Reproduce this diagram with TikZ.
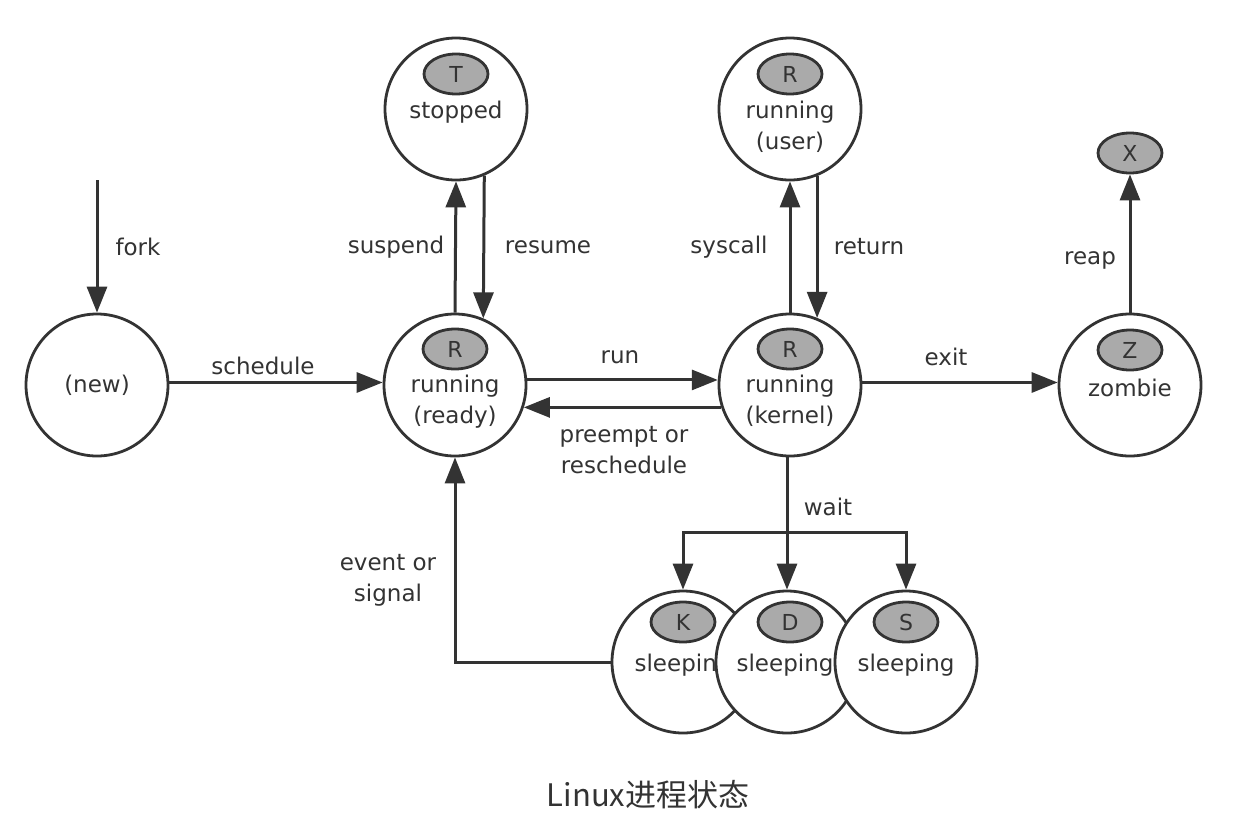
\documentclass[tikz,border=0pt]{standalone}
\usepackage{fontspec}
\setmainfont{DejaVu Sans}
\newfontfamily\cjk{Noto Sans CJK SC}
\usetikzlibrary{arrows.meta,shapes.geometric}
\definecolor{lc}{HTML}{333333}
\definecolor{tg}{HTML}{AAAAAA}
\tikzset{
  state/.style={circle, draw=lc, line width=2.8pt, fill=white, minimum size=142pt, inner sep=0pt},
  tag/.style={ellipse, draw=lc, line width=2.8pt, fill=tg, minimum width=64pt, minimum height=40pt, inner sep=0pt, text=lc, font=\fontsize{22}{26}\selectfont},
  txt/.style={text=lc, align=center, inner sep=0pt, font=\fontsize{23}{31}\selectfont},
  lbl/.style={text=lc, align=center, inner sep=0pt, font=\fontsize{23}{31}\selectfont},
  arr/.style={draw=lc, line width=3pt, -{Triangle[length=26pt,width=20pt]}},
}
\begin{document}
\begin{tikzpicture}[x=1pt,y=-1pt]
\useasboundingbox[fill=white] (0,0) rectangle (1244,836);

% states
\node[state] (new) at (97,385) {};
\node[txt] (newt) at (new.center) {(new)};

\node[state] (ready) at (455,385) {};
\node[tag] (readyg) at (455,349) {R};
\node[txt,anchor=north] (readyt) at (455,375) {running\\(ready)};

\node[state] (stopped) at (456,109) {};
\node[tag] (stoppedg) at (456,74) {T};
\node[txt] (stoppedt) at (456,112) {stopped};

\node[state] (kernel) at (790,385) {};
\node[tag] (kernelg) at (790,349) {R};
\node[txt,anchor=north] (kernelt) at (790,375) {running\\(kernel)};

\node[state] (user) at (790,109) {};
\node[tag] (userg) at (790,74) {R};
\node[txt,anchor=north] (usert) at (790,101) {running\\(user)};

\node[state] (zombie) at (1130,385) {};
\node[tag] (zombieg) at (1130,350) {Z};
\node[txt] (zombiet) at (1130,388) {zombie};

\node[tag] (dead) at (1130,153) {X};

\node[state] (sk) at (683,662) {};
\node[tag] (skg) at (683,622) {K};
\node[txt] (skt) at (683,665) {sleeping};
\node[state] (sd) at (787,662) {};
\node[tag] (sdg) at (790,622) {D};
\node[txt] (sdt) at (785,665) {sleeping};
\node[state] (ss) at (906,662) {};
\node[tag] (ssg) at (906,622) {S};
\node[txt] (sst) at (906,665) {sleeping};

% connectors
\coordinate (forkstart) at (97,180);
\draw[arr] (forkstart) -- (new.north);
\node[lbl] (lfork) at (138,247) {fork};

\draw[arr] (new.2) -- (ready.178);
\node[lbl] (lsched) at (263,366) {schedule};

\draw[arr] (ready.north) -- (stopped.south);
\node[lbl] (lsusp) at (396,247) {suspend};
\draw[arr] (stopped.-67) -- (ready.67);
\node[lbl] (lres) at (548,247) {resume};

\draw[arr] (kernel.north) -- (user.south);
\node[lbl] (lsys) at (729,247) {syscall};
\draw[arr] (user.-68) -- (kernel.68);
\node[lbl] (lret) at (869,247) {return};

\draw[arr] (ready.4) -- (kernel.176);
\node[lbl] (lrun) at (620,357) {run};
\draw[arr] (kernel.198) -- (ready.-18);
\node[lbl] (lpre) at (624,450) {preempt or\\reschedule};

\draw[arr] (kernel.2) -- (zombie.178);
\node[lbl] (lexit) at (946,357) {exit};

\draw[arr] (zombie.north) -- (dead.south);
\node[lbl] (lreap) at (1090,260) {reap};

\coordinate (wb) at (787,532);
\draw[arr] (kernel.south -| sd) -- (sd.north);
\draw[arr] (wb) -| (sk.north);
\draw[arr] (wb) -| (ss.north);
\node[lbl] (lwait) at (828,507) {wait};

\draw[arr] (sk.west) -| (ready.south);
\node[lbl] (levent) at (388,580) {event or\\signal};

\node[text=lc, font=\cjk\fontsize{31}{36}\selectfont] (title) at (648,795) {Linux进程状态};
\end{tikzpicture}
\end{document}
